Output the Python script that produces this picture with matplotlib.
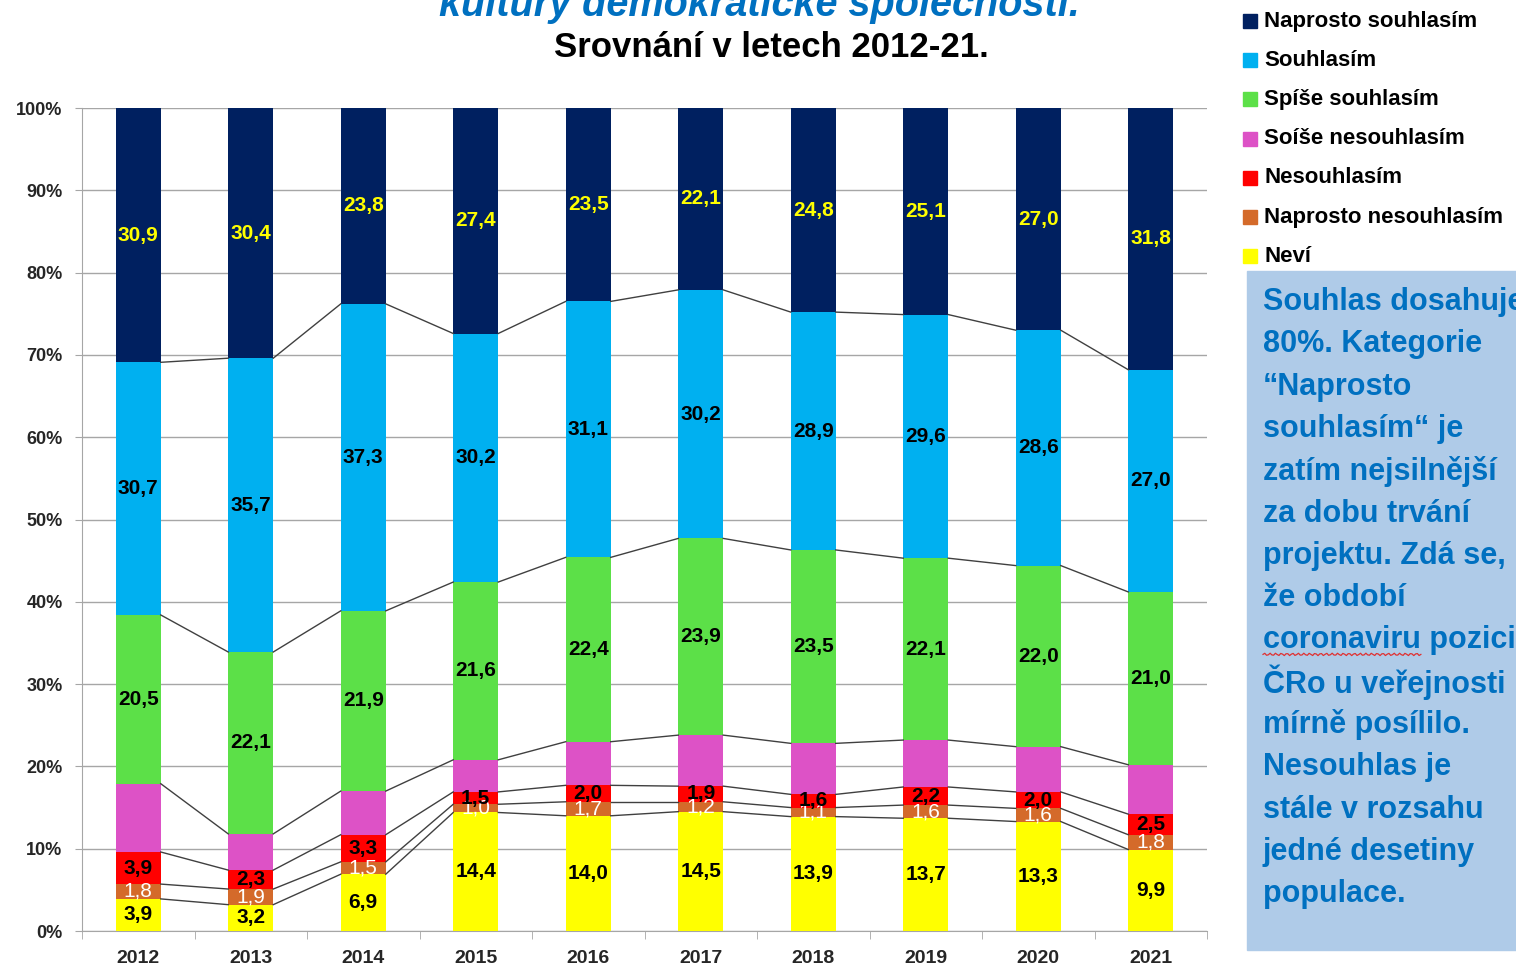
import numpy as np
import matplotlib
matplotlib.use('Agg')
import matplotlib.pyplot as plt
from matplotlib.patches import Rectangle

# %% Data (podíly v %, zdola nahoru)
roky = ['2012', '2013', '2014', '2015', '2016', '2017', '2018', '2019', '2020', '2021']

nevi = [3.9, 3.2, 6.9, 14.4, 14.0, 14.5, 13.9, 13.7, 13.3, 9.9]
naprosto_nesouhlasim = [1.8, 1.9, 1.5, 1.0, 1.7, 1.2, 1.1, 1.6, 1.6, 1.8]
nesouhlasim = [3.9, 2.3, 3.3, 1.5, 2.0, 1.9, 1.6, 2.2, 2.0, 2.5]
spise_nesouhlasim = [8.3, 4.4, 5.3, 3.9, 5.3, 6.2, 6.2, 5.7, 5.5, 6.0]
spise_souhlasim = [20.5, 22.1, 21.9, 21.6, 22.4, 23.9, 23.5, 22.1, 22.0, 21.0]
souhlasim = [30.7, 35.7, 37.3, 30.2, 31.1, 30.2, 28.9, 29.6, 28.6, 27.0]
naprosto_souhlasim = [30.9, 30.4, 23.8, 27.4, 23.5, 22.1, 24.8, 25.1, 27.0, 31.8]

# (název, hodnoty, barva, barva popisku, popisky ano/ne)
serie = [
    ('Neví', nevi, '#FFFF00', 'black', True),
    ('Naprosto nesouhlasím', naprosto_nesouhlasim, '#D46A2A', 'white', True),
    ('Nesouhlasím', nesouhlasim, '#FF0000', 'black', True),
    ('Soíše nesouhlasím', spise_nesouhlasim, '#DD52C6', None, False),
    ('Spíše souhlasím', spise_souhlasim, '#5CE048', 'black', True),
    ('Souhlasím', souhlasim, '#00B0F0', 'black', True),
    ('Naprosto souhlasím', naprosto_souhlasim, '#002060', '#FFFF00', True),
]

poznamka = ['Souhlas dosahuje', '80%. Kategorie', '“Naprosto', 'souhlasím“ je',
            'zatím nejsilnější', 'za dobu trvání', 'projektu. Zdá se,', 'že období',
            'coronaviru pozici', 'ČRo u veřejnosti', 'mírně posílilo.', 'Nesouhlas je',
            'stále v rozsahu', 'jedné desetiny', 'populace.']

plt.rcParams['font.family'] = ['Liberation Sans', 'DejaVu Sans']

W, H = 1516, 969
fig = plt.figure(figsize=(W / 100, H / 100), dpi=100)
ax = fig.add_axes([82 / W, 1 - 931 / H, (1207 - 82) / W, (931 - 108) / H])


def px(x, y):
    # pixely od levého horního rohu -> souřadnice obrázku
    return x / W, 1 - y / H


x = np.arange(len(roky))
sirka = 0.4
data = np.array([s[1] for s in serie], dtype=float)
data = data / data.sum(axis=0) * 100
dole = np.zeros(len(roky))
for (nazev, puvodni, barva, barva_txt, stitek), hodnoty in zip(serie, data):
    ax.bar(x, hodnoty, sirka, bottom=dole, color=barva, label=nazev, zorder=3)
    if stitek:
        for xi, h, d, s in zip(x, hodnoty, dole, puvodni):
            ax.text(xi, d + h / 2, ('%.1f' % s).replace('.', ','), ha='center', va='center',
                    color=barva_txt, fontsize=15,
                    fontweight='normal' if barva_txt == 'white' else 'bold', zorder=5)
    dole = dole + hodnoty
    # spojnice mezi sloupci
    if dole[0] < 99.9:
        for i in range(len(roky) - 1):
            ax.plot([x[i] + sirka / 2, x[i + 1] - sirka / 2], [dole[i], dole[i + 1]],
                    color='#404040', lw=1, zorder=4)

ax.set_xlim(-0.5, len(roky) - 0.5)
ax.set_ylim(0, 100)
ax.set_yticks(np.arange(0, 101, 10))
ax.set_yticklabels(['%d%%' % v for v in range(0, 101, 10)], fontsize=13, fontweight='bold',
                   color='#262626')
ax.yaxis.grid(True, color='#A6A6A6', lw=1, zorder=0)
ax.tick_params(axis='y', length=5, color='#A6A6A6', pad=9)
ax.set_xticks(x)
ax.set_xticklabels(roky, fontsize=14, fontweight='bold', color='#262626')
ax.set_xticks(np.arange(-0.5, len(roky)), minor=True)
ax.tick_params(axis='x', which='major', length=0, pad=14)
ax.tick_params(axis='x', which='minor', length=6, color='#A6A6A6')
for s in ['top', 'right']:
    ax.spines[s].set_visible(False)
for s in ['left', 'bottom']:
    ax.spines[s].set_color('#A6A6A6')

# nadpisy
fig.text(*px(769, 16), 'kultury demokratické společnosti.“', ha='center', va='baseline',
         fontsize=28.5, fontweight='bold', style='italic', color='#0070C0')
fig.text(*px(771, 57), 'Srovnání v letech 2012-21.', ha='center', va='baseline',
         fontsize=25, fontweight='bold', color='black')

# legenda
for i, (nazev, _, barva, _, _) in enumerate(serie[::-1]):
    yc = 21 + i * 39.2
    fig.patches.append(Rectangle(px(1243, yc + 7), 14 / W, 14 / H,
                                 transform=fig.transFigure, color=barva))
    fig.text(*px(1264, yc), nazev, ha='left', va='center', fontsize=16,
             fontweight='bold', color='black')

# textové pole
fig.patches.append(Rectangle(px(1247, 950), (W - 1247) / W, (950 - 271) / H,
                             transform=fig.transFigure, color='#AFCBE8', zorder=0))
for i, radek in enumerate(poznamka):
    fig.text(*px(1263, 302 + i * 42.3), radek, ha='left', va='center',
             fontsize=22, fontweight='bold', color='#0070C0')

# vlnovka pod slovem "coronaviru" (kontrola pravopisu)
r = fig.canvas.get_renderer()
slovo = fig.text(*px(1263, 302 + 8 * 42.3), 'coronaviru', ha='left', va='center',
                 fontsize=22, fontweight='bold', alpha=0)
bb = slovo.get_window_extent(r)
vx = np.linspace(bb.x0, bb.x1, 90)
vy = bb.y0 + 1 + 1.2 * np.sin(np.linspace(0, 2 * np.pi * 28, 90))
fig.add_artist(plt.Line2D(vx / W, vy / H, transform=fig.transFigure, color='#E03030', lw=0.9))

fig.savefig('out.png', dpi=100)
